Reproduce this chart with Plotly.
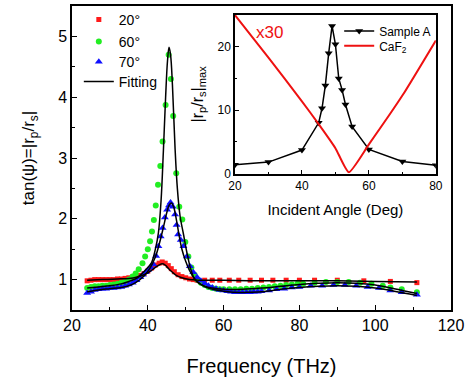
import plotly.graph_objects as go

# ---------------- data ----------------
f20 = [24, 25, 26, 27, 28, 29, 30, 31, 32, 33, 34, 35, 36, 37, 38, 39, 40, 41, 42, 43, 43.8,
       44.6, 45.4, 46.2, 47, 48, 49, 50, 51, 52, 53, 55, 57, 59, 61.5, 64, 67, 70, 73, 76.5,
       80, 84, 90, 97, 104, 111]
v20 = [0.98, 0.99, 1.0, 1.0, 1.0, 1.0, 1.0, 1.0, 1.01, 1.01, 1.02, 1.03, 1.04, 1.05, 1.07,
       1.1, 1.14, 1.19, 1.24, 1.27, 1.29, 1.27, 1.23, 1.18, 1.13, 1.08, 1.05, 1.03, 1.01, 1.0,
       0.99, 0.99, 0.99, 0.99, 0.99, 0.99, 0.99, 0.99, 0.99, 0.99, 0.99, 0.99, 0.99, 0.98,
       0.97, 0.95]

f60 = [24, 25, 26, 27, 28, 29, 30, 31, 32, 33, 34, 35, 36, 36.8, 37.6, 38.6, 39.3, 40.0,
       40.6, 41.1, 41.6, 42.1, 42.7, 43.3, 43.9, 44.7, 45.5, 46.1, 46.7, 47.5, 48.3, 49.1,
       49.9, 50.7, 51.5, 52.3, 53.1, 54, 55, 56, 57, 58, 59, 60, 61.5, 63, 64.5, 66, 67.5,
       69, 70.5, 72, 73.5, 75, 76.5, 78, 79.5, 81, 84, 87, 90, 93, 96, 99, 102, 104, 107, 111]
v60 = [0.86, 0.88, 0.89, 0.89, 0.9, 0.9, 0.91, 0.92, 0.93, 0.95, 0.97, 1.0, 1.05, 1.1, 1.17,
       1.27, 1.38, 1.5, 1.63, 1.79, 1.98, 2.22, 2.56, 2.87, 3.27, 3.87, 4.7, 4.3, 3.69, 2.75,
       2.2, 1.99, 1.62, 1.38, 1.2, 1.08, 1.0, 0.95, 0.91, 0.88, 0.86, 0.85, 0.84, 0.84, 0.84,
       0.84, 0.84, 0.85, 0.85, 0.86, 0.87, 0.88, 0.89, 0.9, 0.91, 0.92, 0.93, 0.93, 0.95,
       0.96, 0.96, 0.96, 0.95, 0.93, 0.9, 0.87, 0.84, 0.79]

f70 = [24, 25, 26, 27, 28, 29, 30, 31, 32, 33, 34, 35, 36, 37, 38, 38.7, 39.4, 40.1, 40.8,
       41.5, 42.2, 42.8, 43.4, 43.9, 44.5, 45.1, 45.6, 46.0, 46.6, 47.2, 47.6, 48.0, 48.7,
       49.4, 50.3, 51.1, 52, 53, 54, 55, 56, 57, 58, 59, 60, 61, 62, 63, 64, 65, 66, 67, 68,
       69, 70, 72, 74, 76, 78, 80, 83, 86, 89, 92, 95, 98, 101, 104, 107, 111]
v70 = [0.78, 0.8, 0.83, 0.84, 0.85, 0.85, 0.86, 0.86, 0.87, 0.88, 0.9, 0.92, 0.95, 0.99,
       1.04, 1.08, 1.12, 1.16, 1.2, 1.25, 1.39, 1.55, 1.71, 1.85, 2.02, 2.15, 2.22, 2.27, 2.2,
       2.07, 1.9, 1.74, 1.65, 1.55, 1.38, 1.22, 1.12, 1.04, 0.98, 0.94, 0.9, 0.87, 0.85, 0.83,
       0.82, 0.81, 0.8, 0.79, 0.79, 0.79, 0.79, 0.79, 0.8, 0.8, 0.81, 0.82, 0.84, 0.85, 0.87,
       0.88, 0.9, 0.9, 0.91, 0.91, 0.9, 0.88, 0.86, 0.82, 0.79, 0.75]

fit20_f = [24, 28, 32, 35, 37, 39, 40.5, 42, 43, 43.8, 44.6, 45.5, 46.5, 47.5, 49, 51, 54,
           60, 70, 80, 90, 100, 111]
fit20_v = [0.99, 1.0, 1.01, 1.02, 1.04, 1.08, 1.13, 1.2, 1.24, 1.26, 1.24, 1.18, 1.12, 1.07,
           1.03, 1.0, 0.99, 0.99, 0.98, 0.98, 0.98, 0.97, 0.96]

fit60_f = [24, 27, 30, 33, 35, 37, 38.5, 40, 41, 42, 42.8, 43.5, 44.1, 44.7, 45.2, 45.6, 46,
           46.5, 47.2, 47.8, 48.5, 49.4, 50.3, 51.2, 52, 53, 55, 57, 60, 65, 70, 75, 80, 85,
           90, 95, 100, 105, 111]
fit60_v = [0.86, 0.88, 0.9, 0.93, 0.97, 1.02, 1.1, 1.2, 1.28, 1.5, 1.77, 2.3, 3.1, 4.0, 4.6,
           4.82, 4.7, 4.2, 3.15, 2.5, 2.05, 1.75, 1.45, 1.2, 1.05, 0.96, 0.89, 0.86, 0.84, 0.84,
           0.86, 0.89, 0.92, 0.94, 0.95, 0.94, 0.91, 0.85, 0.77]

fit70_f = [24, 27, 30, 33, 35, 37, 39, 40.5, 42, 43, 44, 45, 45.6, 46.2, 46.8, 47.5, 48.2,
           49, 50, 51, 52.5, 54, 56, 58, 60, 63, 66, 70, 75, 80, 85, 90, 95, 100, 105, 111]
fit70_v = [0.8, 0.83, 0.85, 0.87, 0.9, 0.96, 1.06, 1.18, 1.37, 1.58, 1.83, 2.1, 2.22, 2.26,
           2.2, 2.0, 1.75, 1.5, 1.3, 1.15, 1.0, 0.92, 0.86, 0.83, 0.81, 0.79, 0.79, 0.8, 0.84,
           0.87, 0.89, 0.9, 0.89, 0.86, 0.81, 0.74]

angle_a = [20, 30, 40, 45, 46, 47, 48, 49, 50, 51, 52, 53, 55, 60, 70, 80]
ratio_a = [1.4, 1.8, 3.7, 8.0, 10.3, 13.9, 19.0, 23.3, 20.4, 15.0, 13.2, 10.9, 7.4, 3.8,
           1.9, 1.3]

angle_caf2 = [20, 30, 40, 45, 50, 54, 60, 70, 80]
ratio_caf2 = [25, 18.3, 11.4, 7.8, 4.0, 0.2, 4.6, 12.3, 21]

main_xticks = [20, 40, 60, 80, 100, 120]
main_yticks = [1, 2, 3, 4, 5]
inset_xticks = [20, 40, 60, 80]
inset_yticks = [0, 10, 20]

FONT = "Arial, Liberation Sans, sans-serif"

fig = go.Figure()

fig.add_trace(go.Scatter(x=f20, y=v20, mode="markers", name="20°",
                         marker=dict(symbol="square", size=5, color="#ff1a1a"),
                         legend="legend"))
fig.add_trace(go.Scatter(x=f60, y=v60, mode="markers", name="60°",
                         marker=dict(symbol="circle", size=6, color="#22ee22"),
                         legend="legend3"))
fig.add_trace(go.Scatter(x=f70, y=v70, mode="markers", name="70°",
                         marker=dict(symbol="triangle-up", size=7, color="#1010ff"),
                         legend="legend4"))
fig.add_trace(go.Scatter(x=fit20_f, y=fit20_v, mode="lines", name="Fitting",
                         line=dict(color="black", width=1.5, shape="spline"),
                         legend="legend5"))
fig.add_trace(go.Scatter(x=fit60_f, y=fit60_v, mode="lines", name="Fitting",
                         line=dict(color="black", width=1.5, shape="spline"),
                         showlegend=False))
fig.add_trace(go.Scatter(x=fit70_f, y=fit70_v, mode="lines", name="Fitting",
                         line=dict(color="black", width=1.5, shape="spline"),
                         showlegend=False))

fig.add_trace(go.Scatter(x=angle_a, y=ratio_a, mode="lines+markers", name="Sample A",
                         xaxis="x2", yaxis="y2",
                         line=dict(color="black", width=1.5),
                         marker=dict(symbol="triangle-down", size=7, color="black"),
                         legend="legend2"))
fig.add_trace(go.Scatter(x=angle_caf2, y=ratio_caf2, mode="lines",
                         name="CaF<sub>2</sub>", xaxis="x2", yaxis="y2",
                         line=dict(color="#ee1111", width=2, shape="spline", smoothing=0.5),
                         legend="legend6"))

axis_common = dict(showline=True, linecolor="black", linewidth=1.5, mirror=True,
                   ticks="inside", tickcolor="black", showgrid=False, zeroline=False)


def leg(x, y, size):
    return dict(x=x, y=y, xanchor="left", yanchor="middle", bgcolor="rgba(0,0,0,0)",
                font=dict(size=size), tracegroupgap=0, itemwidth=30)


fig.update_layout(
    width=473, height=379,
    margin=dict(l=72, r=22, t=5, b=69),
    paper_bgcolor="white", plot_bgcolor="white",
    font=dict(family=FONT, color="black"),
    xaxis=dict(range=[20, 120], tickvals=main_xticks, ticklen=5, tickwidth=1.2,
               tickfont=dict(size=16),
               minor=dict(dtick=10, ticks="inside", ticklen=3, tickcolor="black"),
               title=dict(text="Frequency (THz)", font=dict(size=20), standoff=26),
               domain=[0, 1], **axis_common),
    yaxis=dict(range=[0.5, 5.5], tickvals=main_yticks, ticklen=5, tickwidth=1.2,
               tickfont=dict(size=16),
               minor=dict(dtick=0.5, ticks="inside", ticklen=3, tickcolor="black"),
               title=dict(text="tan(ψ)=|r<sub>p</sub>/r<sub>s</sub>|", font=dict(size=17),
                          standoff=19),
               domain=[0, 1], **axis_common),
    xaxis2=dict(range=[20, 80], tickvals=inset_xticks, ticklen=4, tickwidth=1,
                tickfont=dict(size=12), anchor="y2",
                minor=dict(dtick=10, ticks="inside", ticklen=2, tickcolor="black"),
                title=dict(text="Incident Angle (Deg)", font=dict(size=15), standoff=13),
                domain=[0.430, 0.960], **axis_common),
    yaxis2=dict(range=[0, 25], tickvals=inset_yticks, ticklen=4, tickwidth=1,
                tickfont=dict(size=12), anchor="x2",
                minor=dict(dtick=5, ticks="inside", ticklen=2, tickcolor="black"),
                title=dict(text="|r<sub>p</sub>/r<sub>s</sub>|<sub>max</sub>",
                           font=dict(size=16), standoff=10),
                domain=[0.449, 0.970], **axis_common),
    legend=leg(0.018, 0.951, 14),
    legend3=leg(0.018, 0.879, 14),
    legend4=leg(0.018, 0.813, 14),
    legend5=leg(0.018, 0.748, 14),
    legend2=leg(0.705, 0.915, 12),
    legend6=leg(0.705, 0.866, 12),
    annotations=[dict(x=30.2, y=22.2, xref="x2", yref="y2", text="x30", showarrow=False,
                      font=dict(size=17, color="#ee1111", family=FONT))],
)

fig.write_html("out.html", config={"displayModeBar": False},
               post_script="document.body.style.margin='0px';document.body.style.overflow='hidden';")
